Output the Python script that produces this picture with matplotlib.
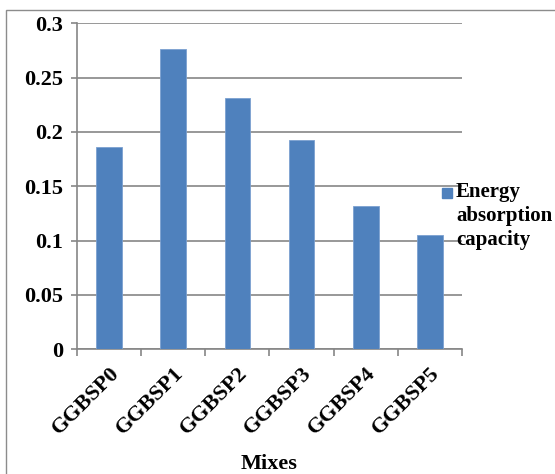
import numpy as np
import matplotlib
matplotlib.use("Agg")
import matplotlib.pyplot as plt
from matplotlib.patches import Rectangle

plt.rcParams['font.family'] = ['Liberation Serif', 'DejaVu Serif']
plt.rcParams['font.weight'] = 'bold'

mixes = ['GGBSP0', 'GGBSP1', 'GGBSP2', 'GGBSP3', 'GGBSP4', 'GGBSP5']
energy = [0.186, 0.276, 0.231, 0.193, 0.132, 0.105]
series_name = 'Energy\nabsorption\ncapacity'
y_ticks = [0, 0.05, 0.1, 0.15, 0.2, 0.25, 0.3]
y_labels = ['0', '0.05', '0.1', '0.15', '0.2', '0.25', '0.3']

bar_color = '#4F81BD'
grid_color = '#868686'

fig = plt.figure(figsize=(5.55, 4.74), dpi=100)
ax = fig.add_axes([0.1387, 0.263, 0.6937, 0.688])

x = np.arange(len(mixes))
ax.bar(x, energy, width=0.4, color=bar_color, edgecolor='#7BA0D0', linewidth=0.6, zorder=3)

ax.set_xlim(-0.5, len(mixes) - 0.5)
ax.set_ylim(0, 0.3)
ax.set_yticks(y_ticks)
ax.set_yticklabels(y_labels, fontsize=16, fontweight='bold')
ax.yaxis.grid(True, color=grid_color, linewidth=1.2, zorder=0)

ax.set_xticks(x)
ax.set_xticklabels(mixes, rotation=45, ha='right', rotation_mode='anchor',
                   fontsize=16, fontweight='bold')
ax.set_xticks(np.arange(len(mixes) + 1) - 0.5, minor=True)
ax.tick_params(axis='x', which='major', length=0, pad=10)
ax.tick_params(axis='x', which='minor', length=5, width=1.2, color=grid_color, direction='out')
ax.tick_params(axis='y', length=4, width=1.2, color=grid_color, pad=6)

for side in ['top', 'right']:
    ax.spines[side].set_visible(False)
for side in ['left', 'bottom']:
    ax.spines[side].set_color(grid_color)
    ax.spines[side].set_linewidth(1.2)

ax.set_xlabel('Mixes', fontsize=16, fontweight='bold', labelpad=11)

# legend drawn by hand so the marker sits beside the first line
fig.patches.append(Rectangle((442 / 555, 1 - 198 / 474), 10 / 555, 10 / 474,
                             transform=fig.transFigure, color=bar_color, zorder=5))
fig.text(456 / 555, 1 - 182 / 474, series_name, fontsize=15, fontweight='bold',
         va='top', ha='left', linespacing=1.25, zorder=5)

# outer chart border
fig.patches.append(Rectangle((6 / 555, -0.05), 1.1, 1 - 10 / 474 + 0.05,
                             transform=fig.transFigure, fill=False,
                             edgecolor='#8C8C8C', linewidth=1.0))

fig.savefig('out.png', dpi=100)
